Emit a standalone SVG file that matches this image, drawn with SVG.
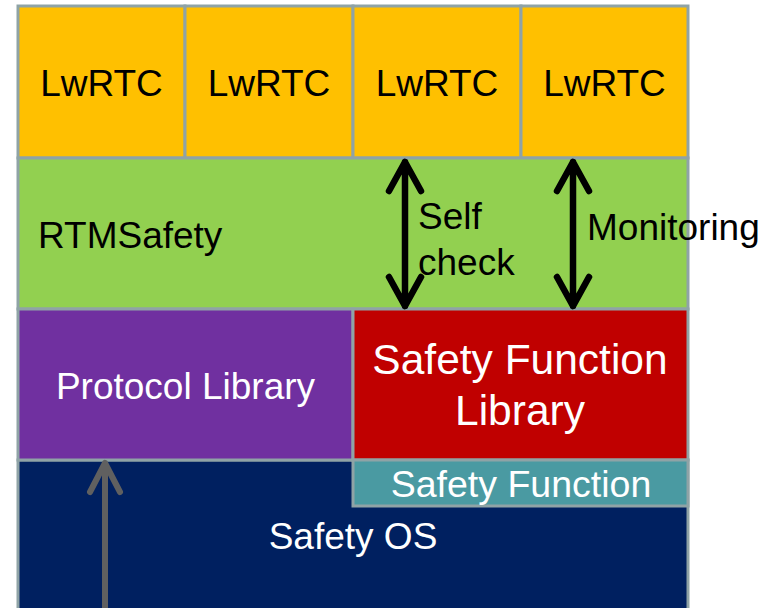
<svg xmlns="http://www.w3.org/2000/svg" width="764" height="608" viewBox="0 0 764 608">
  <style>
    .box { stroke: #8fa3a6; stroke-width: 3; }
    .dark { font-family: "Liberation Sans", Arial, sans-serif; fill: #000000; }
    .light { font-family: "Liberation Sans", Arial, sans-serif; fill: #ffffff; }
    .mid { text-anchor: middle; }
    .dbl { stroke: #000000; stroke-width: 6.5; fill: none; stroke-linecap: round; stroke-linejoin: round; }
    .up { stroke: #606060; stroke-width: 6; fill: none; stroke-linecap: round; stroke-linejoin: round; }
  </style>

  <rect width="764" height="608" fill="#ffffff"/>

  <!-- Safety OS base layer -->
  <g id="safety-os">
    <rect class="box" x="18" y="460" width="670" height="152" fill="#002060"/>
    <text class="light mid" x="353" y="549" font-size="37">Safety OS</text>
  </g>

  <!-- LwRTC row -->
  <g id="lwrtc-1">
    <rect class="box" x="18" y="6" width="167" height="152" fill="#ffc000"/>
    <text class="dark mid" x="101.5" y="96" font-size="37">LwRTC</text>
  </g>
  <g id="lwrtc-2">
    <rect class="box" x="185" y="6" width="168" height="152" fill="#ffc000"/>
    <text class="dark mid" x="269" y="96" font-size="37">LwRTC</text>
  </g>
  <g id="lwrtc-3">
    <rect class="box" x="353" y="6" width="168" height="152" fill="#ffc000"/>
    <text class="dark mid" x="437" y="96" font-size="37">LwRTC</text>
  </g>
  <g id="lwrtc-4">
    <rect class="box" x="521" y="6" width="167" height="152" fill="#ffc000"/>
    <text class="dark mid" x="604.5" y="96" font-size="37">LwRTC</text>
  </g>

  <!-- RTMSafety layer -->
  <g id="rtmsafety">
    <rect class="box" x="18" y="158" width="670" height="151" fill="#92d050"/>
    <text class="dark" x="38" y="248" font-size="37">RTMSafety</text>
  </g>

  <!-- Protocol Library -->
  <g id="protocol-library">
    <rect class="box" x="18" y="309" width="335" height="151" fill="#7030a0"/>
    <text class="light mid" x="185.5" y="399" font-size="37">Protocol Library</text>
  </g>

  <!-- Safety Function Library -->
  <g id="safety-function-library">
    <rect class="box" x="353" y="309" width="335" height="151" fill="#c00000"/>
    <text class="light mid" x="520" y="374" font-size="42.5">Safety Function</text>
    <text class="light mid" x="520" y="425" font-size="42.5">Library</text>
  </g>

  <!-- Safety Function strip -->
  <g id="safety-function">
    <rect class="box" x="353" y="460" width="335" height="46" fill="#4a9aa2"/>
    <text class="light mid" x="521" y="497" font-size="37.5">Safety Function</text>
  </g>

  <!-- Connectors -->
  <g id="connectors">
    <!-- self check -->
    <path class="dbl" d="M405 162 V306 M389 191 L405 162 L421 191 M389 277 L405 306 L421 277"/>
    <!-- monitoring -->
    <path class="dbl" d="M573 162 V306 M557 191 L573 162 L589 191 M557 277 L573 306 L589 277"/>
    <!-- upward link from Safety OS to Protocol Library -->
    <path class="up" d="M105 610 V463 M90 492 L105 463 L120 492"/>
  </g>

  <!-- Connector labels -->
  <g id="labels">
    <text class="dark" x="418" y="229" font-size="37">Self</text>
    <text class="dark" x="418" y="275" font-size="37">check</text>
    <text class="dark" x="587" y="240" font-size="37">Monitoring</text>
  </g>
</svg>
